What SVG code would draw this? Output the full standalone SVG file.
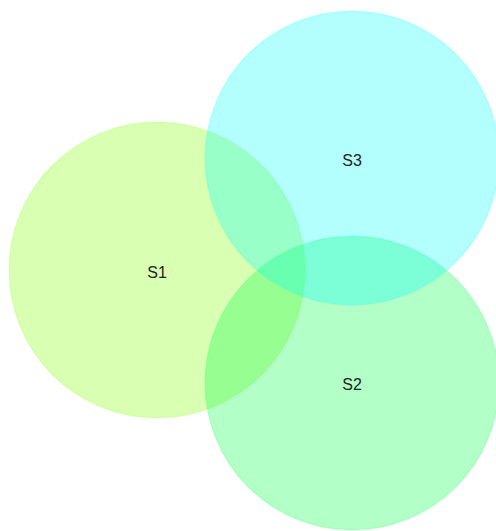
<svg xmlns="http://www.w3.org/2000/svg" width="496" height="531" viewBox="0 0 496 531">
<style>
.set{fill-opacity:0.3;stroke-opacity:0.15;stroke-width:1.5}
.lbl{font-family:"Liberation Sans",Arial,sans-serif;font-size:16px;fill:#222;text-anchor:middle;dominant-baseline:central}
</style>
<rect width="496" height="531" fill="#fff"/>
<g id="S1"><circle class="set" cx="157" cy="270" r="148" fill="#7fff00" stroke="#7fff00"/></g>
<g id="S2"><circle class="set" cx="352" cy="383" r="147" fill="#00ff46" stroke="#00ff46"/></g>
<g id="S3"><circle class="set" cx="352" cy="158" r="147" fill="#00fffa" stroke="#00fffa"/></g>
<g id="labels">
<text class="lbl" x="157" y="272">S1</text>
<text class="lbl" x="352" y="384">S2</text>
<text class="lbl" x="352" y="160">S3</text>
</g>
</svg>
